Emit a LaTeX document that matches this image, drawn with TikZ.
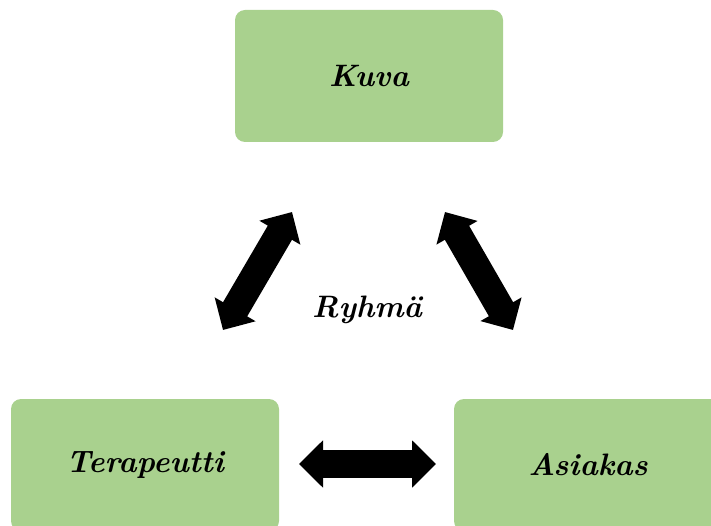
\documentclass[tikz,border=0pt]{standalone}
\usetikzlibrary{arrows.meta}
\definecolor{boxgreen}{HTML}{A9D18E}
\begin{document}
\begin{tikzpicture}[x=1pt, y=-1pt,
    label/.style={font=\fontsize{31}{37}\selectfont\bfseries\itshape},
    box/.style={label, fill=boxgreen, rounded corners=10pt, minimum width=268pt, minimum height=132pt},
    blockarrow/.style={line width=28pt, {Triangle[length=24pt,width=46pt]}-{Triangle[length=24pt,width=46pt]}}]
  % Page size
  \useasboundingbox (0,0) rectangle (711,526);

  % Boxes
  \node[box] (kuva) at (369,76) {Kuva};
  \node[box] (terapeutti) at (145,465) {Terapeutti};
  \node[box] (asiakas) at (588,465) {Asiakas};

  % Group label in the middle
  \node[label] (ryhma) at (367,310) {Ryhmä};

  % End points of the arrows
  \coordinate (kuvaL) at (292,212);
  \coordinate (terapeuttiT) at (223,330);
  \coordinate (kuvaR) at (445,212);
  \coordinate (asiakasT) at (513,330);
  \coordinate (terapeuttiR) at (299,464);
  \coordinate (asiakasL) at (436,464);

  % Double arrows
  \draw[blockarrow] (kuvaL) -- (terapeuttiT);
  \draw[blockarrow] (kuvaR) -- (asiakasT);
  \draw[blockarrow] (terapeuttiR) -- (asiakasL);
\end{tikzpicture}
\end{document}
